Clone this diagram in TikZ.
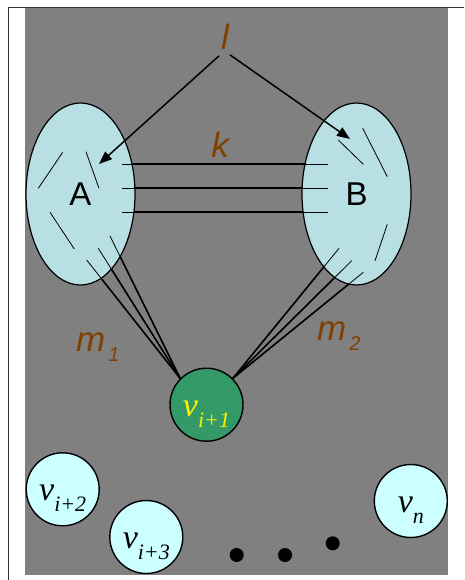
\documentclass[tikz,border=0pt]{standalone}
\usepackage{fontspec}
\setmainfont{Liberation Serif}
\setsansfont{Liberation Sans}
\usetikzlibrary{shapes.geometric,arrows.meta}
\pgfdeclarelayer{back}
\pgfdeclarelayer{mid}
\pgfsetlayers{back,mid,main}
\definecolor{slide}{HTML}{808080}
\definecolor{setfill}{HTML}{B8E0E4}
\definecolor{lblbrown}{HTML}{804000}
\definecolor{vgreen}{HTML}{339966}
\definecolor{vcyan}{HTML}{CCFFFF}
\newcommand{\vname}[1]{\textit{v}\raisebox{-11pt}{\fontsize{22}{22}\selectfont\textit{#1}}}
\newcommand{\mname}[1]{\textit{m}\hspace{3pt}\raisebox{-10pt}{\fontsize{20}{20}\selectfont\textit{#1}}}
\begin{document}
\begin{tikzpicture}[x=1pt,y=-1pt,
  setnode/.style={ellipse,draw,line width=1.2pt,fill=setfill,minimum width=109pt,
    minimum height=182pt,inner sep=0pt,font=\sffamily\fontsize{33}{33}\selectfont},
  vnode/.style={circle,draw,line width=1.4pt,minimum size=73pt,inner sep=0pt},
  vtext/.style={anchor=base,inner sep=0pt,font=\fontsize{34}{34}\selectfont},
  lbl/.style={text=lblbrown,inner sep=0pt,font=\sffamily\itshape\fontsize{35}{35}\selectfont},
  heavy/.style={line width=1.6pt},
  light/.style={line width=0.8pt}]
  \useasboundingbox (0,0) rectangle (464,580);
  \begin{pgfonlayer}{back}
    \fill[white] (0,0) rectangle (464,580);
    \fill[slide] (25,8) rectangle (448,575);
    \draw[line width=1pt,black!80] (8.5,580) -- (8.5,7.5) -- (464,7.5);
  \end{pgfonlayer}

  % the two sets
  \node[setnode] (A) at (80.5,194) {A};
  \node[setnode] (B) at (356.5,194) {B};

  % vertices
  \node[vnode,fill=vgreen] (v1) at (206.5,404.7) {};
  \node[vnode,fill=vcyan] (v2) at (62.7,489.3) {};
  \node[vnode,fill=vcyan] (v3) at (146.3,537) {};
  \node[vnode,fill=vcyan] (vn) at (410.8,501) {};
  \node[vtext,text=yellow] (t1) at ([yshift=-12pt]v1.center) {\vname{i+1}};
  \node[vtext] (t2) at ([yshift=-11.5pt]v2.center) {\vname{i+2}};
  \node[vtext] (t3) at ([yshift=-11.5pt]v3.center) {\vname{i+3}};
  \node[vtext] (tn) at ([yshift=-11pt]vn.center) {\vname{n}};

  % labels
  \node[lbl] (l) at (225,37) {l};
  \node[lbl] (k) at (220,145) {k};
  \node[lbl,anchor=base west] (m1) at (76,351) {\mname{1}};
  \node[lbl,anchor=base west] (m2) at (317,340) {\mname{2}};

  % edges, heavy outside the sets
  \begin{pgfonlayer}{mid}
    \foreach \dy in {30,6,-18}
      \draw[heavy] ([xshift=41.5pt,yshift=\dy pt]A.center) -- ([xshift=-28.5pt,yshift=\dy pt]B.center);
    \foreach \dx/\dy in {6.2/-66,17.8/-54.3,29.5/-42}
      \draw[heavy] ([xshift=\dx pt,yshift=\dy pt]A.center) -- (v1.135);
    \foreach \dx/\dy in {-17.5/-54.3,-4.8/-66.7,6.8/-78.3}
      \draw[heavy] ([xshift=\dx pt,yshift=\dy pt]B.center) -- (v1.45);
  \end{pgfonlayer}

  % same edges, thin inside the sets
  \foreach \dy in {30,6,-18}
    \draw[light] ([xshift=41.5pt,yshift=\dy pt]A.center) -- ([xshift=-28.5pt,yshift=\dy pt]B.center);
  \foreach \dx/\dy in {6.2/-66,17.8/-54.3,29.5/-42}
    \draw[light] ([xshift=\dx pt,yshift=\dy pt]A.center) -- (v1.135);
  \foreach \dx/\dy in {-17.5/-54.3,-4.8/-66.7,6.8/-78.3}
    \draw[light] ([xshift=\dx pt,yshift=\dy pt]B.center) -- (v1.45);

  % strokes inside the sets
  \foreach \a/\b/\c/\d in {62.7/152.3/38.3/188.3, 86/151.7/99/188.3, 50/212.3/74.3/249,
      338.3/140/363.3/164.3, 362.7/128.3/387.3/176.7, 387.3/224.3/375/260.7}
    \draw[light] (\a,\b) -- (\c,\d);

  % l points into both sets
  \draw[line width=1.5pt,-{Triangle[length=13pt,width=10pt]}]
    ([xshift=-6pt,yshift=-6pt]l.south) -- ([xshift=18.5pt,yshift=30pt]A.center);
  \draw[line width=1.5pt,-{Triangle[length=13pt,width=10pt]}]
    ([xshift=5pt,yshift=-5pt]l.south) -- ([xshift=-6.5pt,yshift=55pt]B.center);

  % dots
  \fill (236.7,555) circle (7pt);
  \fill (285,555) circle (7pt);
  \fill (332.7,543.3) circle (7pt);
\end{tikzpicture}
\end{document}
